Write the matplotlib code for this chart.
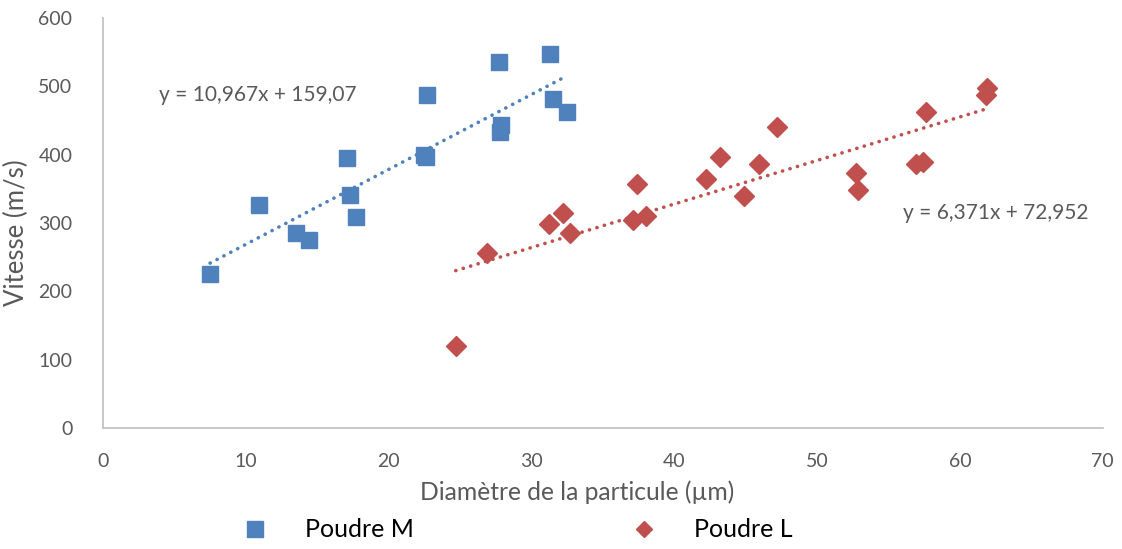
import numpy as np
import matplotlib
matplotlib.use('Agg')
import matplotlib.pyplot as plt
from matplotlib.lines import Line2D

plt.rcParams['font.family'] = ['Lato', 'DejaVu Sans']

# Poudre M
diam_m = [7.5, 10.9, 13.5, 14.4, 17.1, 17.3, 17.7, 22.7, 22.5, 22.6,
          27.7, 27.9, 27.8, 31.3, 31.5, 32.5]
vit_m = [226, 326, 285, 275, 395, 341, 309, 487, 400, 396,
         536, 443, 433, 548, 482, 463]
# Poudre L
diam_l = [24.7, 26.9, 31.2, 32.2, 32.7, 37.4, 37.1, 38.0, 42.2, 43.2,
          44.9, 45.9, 47.2, 52.7, 52.9, 56.9, 57.4, 57.6, 61.9, 61.8]
vit_l = [120, 256, 298, 314, 285, 357, 304, 310, 365, 396,
         340, 387, 440, 373, 349, 386, 389, 463, 497, 487]

# courbes de tendance (Excel)
pente_m, orig_m = 10.967, 159.07
pente_l, orig_l = 6.371, 72.952
eq_m = 'y = 10,967x + 159,07'
eq_l = 'y = 6,371x + 72,952'

bleu = '#4F81BD'
rouge = '#C0504D'
gris = '#595959'

fig = plt.figure(figsize=(11.22, 5.49), dpi=100)
ax = fig.add_axes([0.0918, 0.2204, 0.891, 0.7468])

xm = np.array([min(diam_m), max(diam_m)])
xl = np.array([min(diam_l), max(diam_l)])
ax.plot(xm, pente_m * xm + orig_m, color=bleu, lw=2.6, linestyle=(0, (0.05, 2.1)),
        dash_capstyle='round', zorder=2)
ax.plot(xl, pente_l * xl + orig_l, color=rouge, lw=2.6, linestyle=(0, (0.05, 2.1)),
        dash_capstyle='round', zorder=2)

ax.plot(diam_m, vit_m, 's', color=bleu, ms=12, mec=bleu, zorder=3)
ax.plot(diam_l, vit_l, 'D', color=rouge, ms=10, mec=rouge, zorder=3)

ax.set_xlim(0, 70)
ax.set_ylim(0, 600)
ax.set_xticks(range(0, 71, 10))
ax.set_yticks(range(0, 601, 100))
for s in ['top', 'right']:
    ax.spines[s].set_visible(False)
for s in ['left', 'bottom']:
    ax.spines[s].set_color('#BFBFBF')
    ax.spines[s].set_linewidth(1.2)
ax.tick_params(length=0, labelsize=14, labelcolor=gris)
ax.tick_params(axis='x', pad=18)
ax.tick_params(axis='y', pad=22)

ax.set_xlabel('Diamètre de la particule (µm)', fontsize=17.7, color=gris)
ax.set_ylabel('Vitesse (m/s)', fontsize=18.5, color=gris)
ax.xaxis.set_label_coords(0.474, -0.127)
ax.yaxis.set_label_coords(-0.074, 0.476)

ax.text(3.9, 487, eq_m, fontsize=15, color=gris, va='center')
ax.text(56.0, 314, eq_l, fontsize=15, color=gris, va='center')

handles = [Line2D([], [], marker='s', ls='', color=bleu, ms=11),
           Line2D([], [], marker='D', ls='', color=rouge, ms=8)]
fig.legend(handles, ['Poudre M', 'Poudre L'], loc='center', bbox_to_anchor=(0.456, 0.035),
           ncol=2, frameon=False, fontsize=18, columnspacing=8.2, handletextpad=1.0)

fig.savefig('out.png', dpi=100)
